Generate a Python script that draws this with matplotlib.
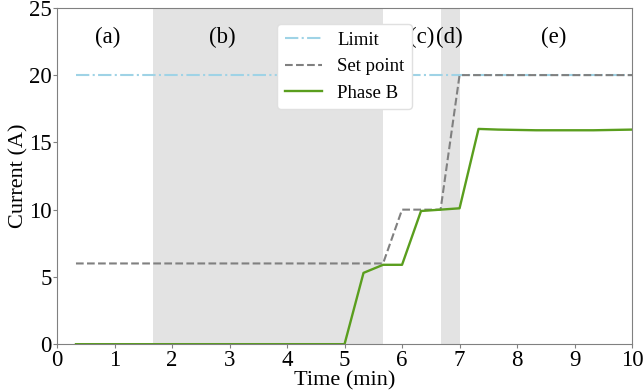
import matplotlib.pyplot as plt

plt.rcParams["font.family"] = ["Liberation Serif", "DejaVu Serif"]

limit_t = [0.33, 10.0]
limit_i = [20.0, 20.0]

setpoint_t = [0.33, 5.67, 6.0, 6.67, 7.0, 10.0]
setpoint_i = [6.0, 6.0, 10.0, 10.0, 20.0, 20.0]

phase_t = [0.33, 5.0, 5.33, 5.67, 6.0, 6.33, 6.67, 7.0, 7.33, 7.67, 8.33, 9.33, 10.0]
phase_i = [0.0, 0.0, 5.3, 5.9, 5.9, 9.9, 10.0, 10.1, 16.0, 15.95, 15.9, 15.9, 15.95]

shade_spans = [(1.67, 5.67), (6.67, 7.0)]
stage_labels = ["(a)", "(b)", "(c)", "(d)", "(e)"]
stage_x = [0.88, 2.87, 6.35, 6.83, 8.63]

fig = plt.figure(figsize=(6.44, 3.92), dpi=100)
ax = fig.add_axes([0.0885, 0.122, 0.893, 0.858])

for x0, x1 in shade_spans:
    ax.axvspan(x0, x1, color="#e3e3e3", lw=0, zorder=0)

ax.plot(limit_t, limit_i, color="#9fd3e6", ls="-.", lw=1.5, label="Limit")
ax.plot(setpoint_t, setpoint_i, color="#808080", ls="--", lw=1.5, label="Set point")
ax.plot(phase_t, phase_i, color="#5a9e1e", lw=1.7, label="Phase B")

for lab, x in zip(stage_labels, stage_x):
    ax.text(x, 22.8, lab, ha="center", va="center", fontsize=16.5)

ax.set_xlim(0, 10)
ax.set_ylim(0, 25)
ax.set_xticks(range(0, 11))
ax.set_yticks(range(0, 26, 5))
ax.tick_params(labelsize=16.5, length=3, pad=1, color="#808080")
for s in ax.spines.values():
    s.set_color("#808080")
ax.set_xlabel("Time (min)", fontsize=16, labelpad=0.5)
ax.set_ylabel("Current (A)", fontsize=16, labelpad=0)

ax.legend(loc="upper center", bbox_to_anchor=(0.5, 0.952), borderaxespad=0,
          fontsize=13.5, framealpha=1, edgecolor="#e0e0e0", handlelength=2.0)

fig.savefig("out.png", dpi=100)
